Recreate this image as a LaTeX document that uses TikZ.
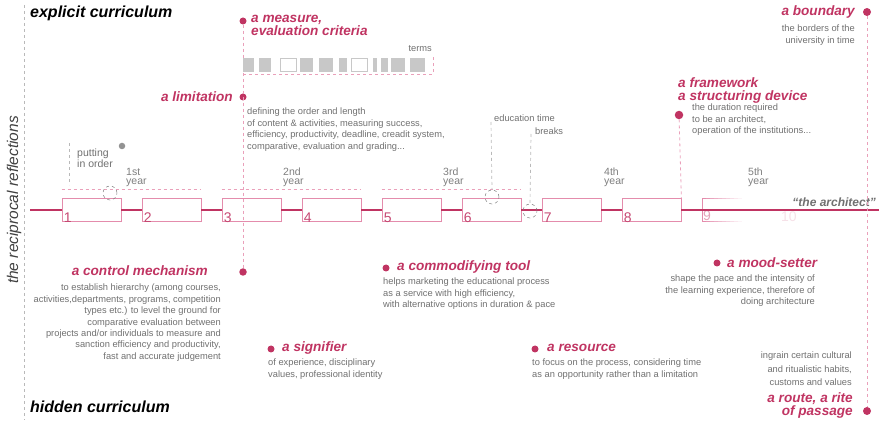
\documentclass[tikz,border=0pt]{standalone}
\usepackage{fontspec}
\setmainfont{Liberation Sans}
\definecolor{mag}{RGB}{192,52,98}
\definecolor{pinkbox}{RGB}{228,140,172}
\definecolor{pinkdash}{RGB}{234,160,186}
\definecolor{txtgray}{RGB}{112,112,112}
\definecolor{sqgray}{RGB}{200,200,200}
\definecolor{lgray}{RGB}{185,185,185}
\begin{document}
\begin{tikzpicture}[x=1pt,y=-1pt,
  head/.style={font=\fontsize{13.6}{13}\selectfont\bfseries\itshape, text=mag, inner sep=0pt},
  desc/.style={font=\fontsize{9.3}{11.4}\selectfont, text=txtgray, inner sep=0pt},
  yearlbl/.style={font=\fontsize{10.5}{9}\selectfont, text=txtgray!90, inner sep=0pt, align=left, anchor=north west},
  dot/.style={circle, fill=mag, inner sep=0pt, minimum size=7pt},
  semester/.style={draw=pinkbox, line width=0.8pt, minimum width=59pt, minimum height=23pt, inner sep=0pt},
  numlbl/.style={font=\fontsize{14}{14}\selectfont, text=mag!90, inner sep=0pt, anchor=south west},
  mainline/.style={draw=mag, line width=2.4pt},
  pdash/.style={draw=pinkdash, line width=0.8pt, dash pattern=on 3pt off 3pt},
  gdash/.style={draw=lgray, line width=0.7pt, dash pattern=on 3pt off 3pt},
  gcirc/.style={circle, draw=gray, dashed, line width=0.5pt, minimum size=14pt, inner sep=0pt},
  term/.style={fill=sqgray, inner sep=0pt, minimum height=14pt},
  termw/.style={draw=sqgray, fill=white, line width=0.8pt, inner sep=0pt, minimum height=13pt}
]
\useasboundingbox (0,0) rectangle (879,422);

% left axis
\coordinate (lt) at (24,5); \coordinate (lb) at (24,420);
\draw[gdash] (lt) -- (lb);
\node[rotate=90, font=\fontsize{15.5}{15.5}\selectfont\itshape, text=black!75, inner sep=0pt] (recip) at (14,200) {the reciprocal reflections};
\node[anchor=north west, font=\fontsize{16}{16}\selectfont\bfseries\itshape, inner sep=0pt] (expl) at (30,6) {explicit curriculum};
\node[anchor=north west, font=\fontsize{16}{16}\selectfont\bfseries\itshape, inner sep=0pt] (hidd) at (30,401) {hidden curriculum};

% semester boxes
\foreach \i in {1,...,8} {
  \node[semester] (b\i) at ({62+80*(\i-1)+29.5},210) {};
  \node[numlbl] (n\i) at ([shift={(2pt,-1pt)}]b\i.south west) {\i};
}
% fading box 9
\coordinate (c9) at (702,199);
\draw[pinkbox, line width=0.8pt] (702,198.5) -- (702,221.5);
\foreach \k in {0,...,9} {
  \draw[pinkbox, line width=0.8pt, opacity={1-\k/10}] ({702+4*\k},198.5) -- ({706+4*\k},198.5);
  \draw[pinkbox, line width=0.8pt, opacity={1-\k/10}] ({702+4*\k},221.5) -- ({706+4*\k},221.5);
}
\node[numlbl, text=mag!45] (n9) at (703,221) {9};
\node[numlbl, text=mag!15] (n10) at (781,222) {10};

% main line
\coordinate (ls) at (30,210); \coordinate (le) at (879,210);
\draw[mainline] (ls) -- (b1.west);
\foreach \i [evaluate=\i as \j using int(\i+1)] in {1,...,7} {
  \draw[mainline] (b\i.east) -- (b\j.west);
}
\draw[mainline] (b8.east) -- (le);
\node[anchor=south east, font=\fontsize{12}{12}\selectfont\bfseries\itshape, text=txtgray, inner sep=0pt] (arch) at (876,207) {``the architect''};

% years
\node[yearlbl] (y1) at (126,168) {1st\\year};
\node[yearlbl] (y2) at (283,168) {2nd\\year};
\node[yearlbl] (y3) at (443,168) {3rd\\year};
\node[yearlbl] (y4) at (604,168) {4th\\year};
\node[yearlbl] (y5) at (748,168) {5th\\year};
\draw[pdash] (b1.west |- 0,189) -- (b2.east |- 0,189);
\draw[pdash] (b3.west |- 0,189) -- (b4.east |- 0,189);
\draw[pdash] (b5.west |- 0,189) -- (b6.east |- 0,189);

% putting in order
\node[circle, fill=gray!85, inner sep=0pt, minimum size=6.5pt] (pdot) at (122,146) {};
\node[desc, anchor=north west, align=left, font=\fontsize{10.5}{11}\selectfont] (put) at (77,149) {putting\\in order};
\draw[gdash] (69,143) -- (69,185);
\node[gcirc] (circ1) at (110,193) {};

% education time / breaks
\node[desc, anchor=west] (edu) at (494,118) {education time};
\node[desc, anchor=west] (brk) at (535,131) {breaks};
\node[gcirc] (circ2) at (492,197) {};
\node[gcirc] (circ3) at (530,211) {};
\draw[gdash] (edu.west) ++(-3pt,-4pt) -- (circ2.north);
\draw[gdash] (brk.west) ++(-4pt,-3pt) -- (circ3.north);

% vertical pink guides
\node[dot] (dmeas) at (243,21) {};
\node[dot] (dlim) at (243,97) {};
\node[dot, minimum size=7.5pt] (dctrl) at (243,272) {};
\draw[pdash] (dmeas) -- (dctrl);
\node[dot, minimum size=8.5pt] (dfram) at (679,115) {};
\draw[pdash] (dfram) -- (b8.north east);
\node[dot, minimum size=8pt] (dbound) at (867,12) {};
\node[dot, minimum size=8pt] (droute) at (867,411) {};
\draw[pdash] (dbound) -- (droute);

% measure
\node[head, anchor=north west, align=left] (meas) at (251,15) {a measure,\\evaluation criteria};
\node[desc, anchor=east] (terms) at (432,49) {terms};
\foreach \a/\b/\w in {243/254/0,259/271/0,280/296/1,300/313/0,319/333/0,339/347/0,351/367/1,373/377/0,381/388/0,391/405/0,410/425/0} {
  \ifnum\w=0
    \node[term, minimum width={(\b-\a)*1pt}] at ({(\a+\b)/2},65) {};
  \else
    \node[termw, minimum width={(\b-\a)*1pt}] at ({(\a+\b)/2},65) {};
  \fi
}
\coordinate (t1) at (243,74); \coordinate (t2) at (433,74); \coordinate (t3) at (433,57);
\draw[pdash] (t1) -- (t2) -- (t3);

% limitation
\node[head, anchor=east] (lim) at (233,97) {a limitation};
\node[desc, anchor=north west, align=left] (limd) at (247,108) {defining the order and length\\of content \& activities, measuring success,\\efficiency, productivity, deadline, creadit system,\\comparative, evaluation and grading...};

% framework
\node[head, anchor=north west, align=left] (fram) at (678,77) {a framework\\a structuring device};
\node[desc, anchor=north west, align=left] (framd) at (692,104) {the duration required\\to be an architect,\\operation of the institutions...};

% boundary
\node[head, anchor=east] (bound) at (855,12) {a boundary};
\node[desc, anchor=north east, align=right] (boundd) at (855,25) {the borders of the\\university in time};

% control mechanism
\node[head, anchor=east] (ctrl) at (208,271) {a control mechanism};
\node[desc, anchor=north east, align=right] (ctrld) at (221,284) {to establish hierarchy (among courses,\\activities,departments, programs, competition\\types etc.) to level the ground for\\comparative evaluation between\\projects and/or individuals to measure and\\sanction efficiency and productivity,\\fast and accurate judgement};

% commodifying tool
\node[dot] (dcomm) at (386,268) {};
\node[head, anchor=west] (comm) at (397,267) {a commodifying tool};
\node[desc, anchor=north west, align=left] (commd) at (383,278) {helps marketing the educational process\\as a service with high efficiency,\\with alternative options in duration \& pace};

% signifier
\node[dot] (dsig) at (271,349) {};
\node[head, anchor=west] (sig) at (282,348) {a signifier};
\node[desc, anchor=north west, align=left] (sigd) at (268,359) {of experience, disciplinary\\values, professional identity};

% resource
\node[dot] (dres) at (535,349) {};
\node[head, anchor=west] (res) at (547,348) {a resource};
\node[desc, anchor=north west, align=left] (resd) at (532,359) {to focus on the process, considering time\\as an opportunity rather than a limitation};

% mood-setter
\node[dot] (dmood) at (717,263) {};
\node[head, anchor=west] (mood) at (727,263) {a mood-setter};
\node[desc, anchor=north east, align=right] (moodd) at (815,275) {shape the pace and the intensity of\\the learning experience, therefore of\\doing architecture};

% route
\node[desc, anchor=north east, align=right, font=\fontsize{9.3}{13.2}\selectfont] (ingr) at (852,352) {ingrain certain cultural\\and ritualistic habits,\\customs and values};
\node[head, anchor=north east, align=right] (route) at (853,392) {a route, a rite\\of passage};
\end{tikzpicture}
\end{document}
